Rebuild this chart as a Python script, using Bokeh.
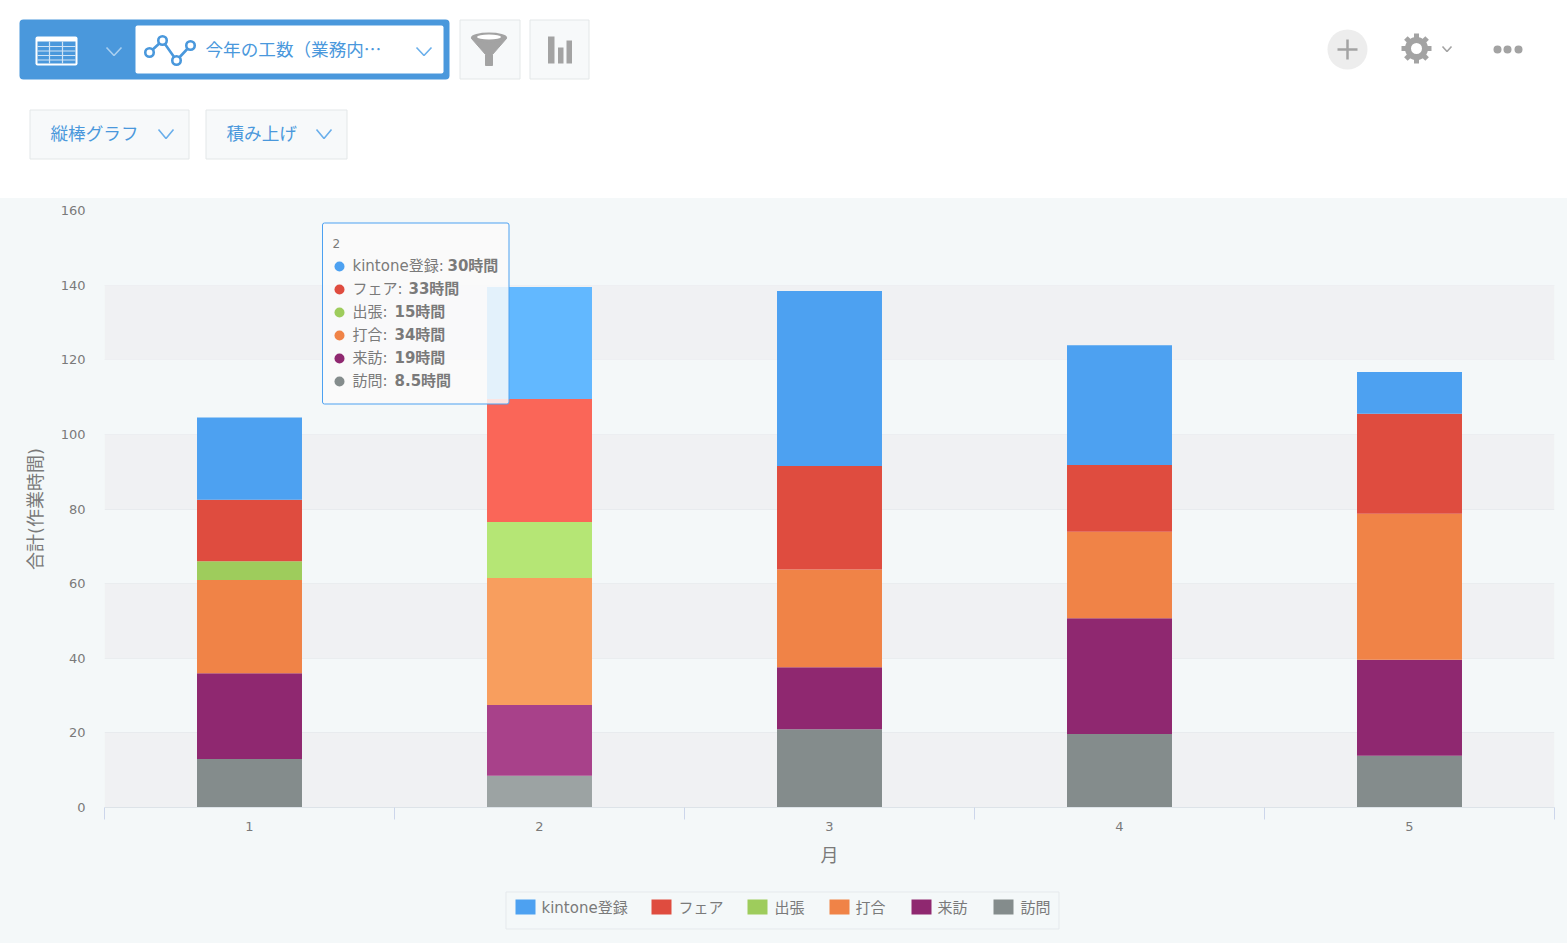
#-*-coding:utf8-*-
import numpy as np
from bokeh.core.properties import value
from bokeh.embed import file_html
from bokeh.models import BoxAnnotation, ColumnDataSource, FixedTicker, Range1d
from bokeh.plotting import figure
from bokeh.resources import INLINE

months = [1, 2, 3, 4, 5]
houmon = [13, 8.5, 21, 19.7, 13.9]      # 訪問
raihou = [23, 19, 16.6, 31, 25.7]       # 来訪
uchiawase = [25, 34, 26.2, 23.2, 39.1]  # 打合
shucchou = [5, 15, 0, 0, 0]             # 出張
fair = [16.5, 33, 27.7, 17.9, 26.8]     # フェア
kintone = [22, 30, 46.9, 32.1, 11.2]    # kintone登録

y_ticks = [0, 20, 40, 60, 80, 100, 120, 140, 160]
x_edges = [0.5, 1.5, 2.5, 3.5, 4.5, 5.5]
hover_month = 2

# bottom to top
series = [
	("訪問", houmon, "#848C8C", "#9CA3A3"),
	("来訪", raihou, "#8F2870", "#A8418A"),
	("打合", uchiawase, "#F08347", "#F89E5E"),
	("出張", shucchou, "#9ECC5C", "#B5E675"),
	("フェア", fair, "#DF4C3F", "#FA6658"),
	("kintone登録", kintone, "#4DA1F1", "#62B8FF"),
]

FONT = "DejaVu Sans, Noto Sans CJK JP"
CJK_FONT = "Noto Sans CJK JP"
BLUE = "#4A98DC"
TEXT = "#7A7A7A"
ICON = "#A3A3A3"
BG = "#F4F8F9"


def chevron(fig, x0, x1, y0, y1, color):
	fig.line([x0, (x0 + x1) / 2, x1], [y0, y1, y0], line_color=color, line_width=1.6)


def button(fig, x0, x1, y0, y1):
	fig.quad(left=[x0], right=[x1], top=[y0], bottom=[y1], fill_color="#F7F9FA", line_color="#E3E7E8", line_width=1)


def label(fig, x, y, s, color, size="17.6px", style="normal", font=FONT, **kw):
	fig.text([x], [y], text=[s], text_color=color, text_font=value(font), text_font_size=size,
		text_font_style=style, text_baseline="middle", **kw)


def strip(height, y0, y1, fill):
	# a frameless figure whose data units are page pixels
	fig = figure(width=1567, height=height, x_range=Range1d(0, 1567), y_range=Range1d(y1, y0),
		output_backend="svg", toolbar_location=None, min_border=0, outline_line_color=None,
		border_fill_color=fill, background_fill_color=fill, styles={"background-color": fill})
	fig.axis.visible = False
	fig.grid.visible = False
	return fig


# toolbar above the chart
top = strip(198, 0, 198, "white")

top.quad(left=[19], right=[449], top=[19], bottom=[79], fill_color=BLUE, line_color=None, border_radius=4)
top.quad(left=[135], right=[443], top=[25], bottom=[73], fill_color="white", line_color=None, border_radius=2)

# table icon
top.quad(left=[35], right=[77], top=[36], bottom=[65], fill_color="white", line_color=None, border_radius=2)
top.quad(left=[37], right=[75], top=[41], bottom=[63], fill_color=BLUE, line_color=None)
for yy in [46, 50.5, 55, 59.5]:
	top.line([37, 75], [yy, yy], line_color="#CFE3F5", line_width=1.2)
for xx in [49, 62]:
	top.line([xx, xx], [41, 63], line_color="#CFE3F5", line_width=1.2)
chevron(top, 106, 121, 47, 55, "#A9CFF0")

# line icon
icon_x = [149, 162, 176, 190]
icon_y = [52, 40, 60, 45]
top.line(icon_x, icon_y, line_color=BLUE, line_width=2.6)
top.scatter(icon_x, icon_y, size=8.5, fill_color="white", line_color=BLUE, line_width=2.6)
label(top, 205, 48, "今年の工数（業務内…", BLUE, font=CJK_FONT)
chevron(top, 416, 431, 47, 55, "#6AAFEB")

button(top, 459.5, 519.5, 19.5, 78.5)
top.patch([471, 506, 492, 492, 485, 485], [38, 38, 54, 65, 65, 54], fill_color=ICON, line_color=ICON, line_width=1, line_join="round")
top.ellipse([488.5], [37], width=36, height=10, fill_color=ICON, line_color=None)
top.ellipse([488.5], [36.5], width=24, height=5, fill_color="white", line_color=None)

button(top, 529.5, 588.5, 19.5, 78.5)
top.quad(left=[547.5, 557.5, 566], right=[554, 563, 571.5], top=[36, 47, 40], bottom=[63, 63, 63], fill_color=ICON, line_color=None)

button(top, 29.5, 188.5, 109.5, 158.5)
label(top, 50, 133, "縦棒グラフ", BLUE)
chevron(top, 158, 173, 129, 138, "#6AAFEB")
button(top, 205.5, 346.5, 109.5, 158.5)
label(top, 226, 133, "積み上げ", BLUE)
chevron(top, 316, 331, 129, 138, "#6AAFEB")

# right hand icons
top.circle([1347], [49], radius=20, fill_color="#EDEDED", line_color=None)
top.line([1337, 1357], [49, 49], line_color=ICON, line_width=2.5)
top.line([1347, 1347], [39, 59], line_color=ICON, line_width=2.5)

ang = np.arange(8) * np.pi / 4
top.segment(1416 + 9 * np.cos(ang), 48 + 9 * np.sin(ang), 1416 + 15 * np.cos(ang), 48 + 15 * np.sin(ang),
	line_color=ICON, line_width=5)
top.circle([1416], [48], radius=8.5, fill_color="white", line_color=ICON, line_width=6)
chevron(top, 1442, 1451, 46, 51, ICON)
top.circle([1497, 1507, 1518], [49, 49, 49], radius=4, fill_color=ICON, line_color=None)

# chart
p = figure(width=1567, height=682, x_range=Range1d(0.5, 5.5), y_range=Range1d(0, 160),
	output_backend="svg", toolbar_location=None, min_border_left=104, min_border_right=13,
	min_border_top=12, min_border_bottom=73, outline_line_color=None,
	border_fill_color=BG, background_fill_color=BG, styles={"background-color": BG})

# grey bands 0-20, 40-60, 80-100, 120-140
for lo, hi in zip(y_ticks[0::2], y_ticks[1::2]):
	p.add_layout(BoxAnnotation(bottom=lo, top=hi, fill_color="#F0F1F3", fill_alpha=1, line_color=None, level="underlay"))

bottom = np.zeros(len(months))
for name, vals, col, hover_col in series:
	vals = np.array(vals, dtype=float)
	colors = [hover_col if m == hover_month else col for m in months]
	src = ColumnDataSource(dict(x=months, bottom=bottom, top=bottom + vals, color=colors))
	p.vbar(x="x", bottom="bottom", top="top", width=0.362, fill_color="color", line_color=None, source=src)
	bottom = bottom + vals

p.xaxis.ticker = FixedTicker(ticks=months, minor_ticks=x_edges)
p.xaxis.axis_line_color = "#DDE3E8"
p.xaxis.major_tick_line_color = None
p.xaxis.major_tick_out = 0
p.xaxis.major_tick_in = 0
p.xaxis.minor_tick_line_color = "#CCD6EB"
p.xaxis.minor_tick_out = 12
p.xaxis.minor_tick_in = 0
p.xaxis.major_label_standoff = 2
p.xaxis.axis_label = "月"
p.xaxis.axis_label_standoff = 11
p.xaxis.axis_label_text_font_size = "18px"

p.yaxis.ticker = FixedTicker(ticks=y_ticks)
p.yaxis.axis_line_color = None
p.yaxis.major_tick_line_color = None
p.yaxis.minor_tick_line_color = None
p.yaxis.major_tick_out = 0
p.yaxis.major_tick_in = 0
p.yaxis.major_label_standoff = 19
p.yaxis.axis_label = "合計(作業時間)"
p.yaxis.axis_label_standoff = 12
p.yaxis.axis_label_text_font_size = "18px"

for ax in [p.xaxis, p.yaxis]:
	ax.major_label_text_font = FONT
	ax.major_label_text_font_size = "13px"
	ax.major_label_text_color = TEXT
	ax.axis_label_text_font = FONT
	ax.axis_label_text_font_style = "normal"
	ax.axis_label_text_color = TEXT

p.xgrid.visible = False
p.ygrid.ticker = FixedTicker(ticks=y_ticks)
p.ygrid.grid_line_color = "#E8EBEE"

# tooltip of the hovered column, placed in page pixels
p.extra_x_ranges["px"] = Range1d(104, 1554)
p.extra_y_ranges["px"] = Range1d(807, 210)
px = dict(x_range_name="px", y_range_name="px")

p.quad(left=[322], right=[508.5], top=[222.5], bottom=[403.5], fill_color="#FAFAFA", fill_alpha=0.85,
	line_color="#4DA1F1", line_width=1, border_radius=2, **px)
label(p, 332, 243, str(hover_month), TEXT, size="12px", **px)
tip_rows = [266, 289, 312, 335, 358, 381]
tip_value_x = [447, 408, 394, 394, 394, 394]
for row, val_x, (name, vals, col, hover_col) in zip(tip_rows, tip_value_x, reversed(series)):
	p.scatter([339], [row], size=10, fill_color=col, line_color=None, **px)
	label(p, 352, row - 1, name + ":", TEXT, size="15px", **px)
	label(p, val_x, row - 1, "%g時間" % vals[months.index(hover_month)], TEXT, size="15px", style="bold", **px)

# legend strip under the chart
leg = strip(63, 880, 943, BG)
leg.quad(left=[505.5], right=[1058.5], top=[891.5], bottom=[928.5], fill_color=BG, line_color="#E5E9EC", line_width=1)
swatch_x = [515, 651, 747, 829, 911, 993]
legend_x = [541, 678, 774, 855, 937, 1020]
for sx, lx, (name, vals, col, hover_col) in zip(swatch_x, legend_x, reversed(series)):
	leg.quad(left=[sx], right=[sx + 20], top=[899], bottom=[914], fill_color=col, line_color=None)
	label(leg, lx, 907, name, TEXT, size="15px")

open("out.html", "w").write(file_html([top, p, leg], INLINE))
